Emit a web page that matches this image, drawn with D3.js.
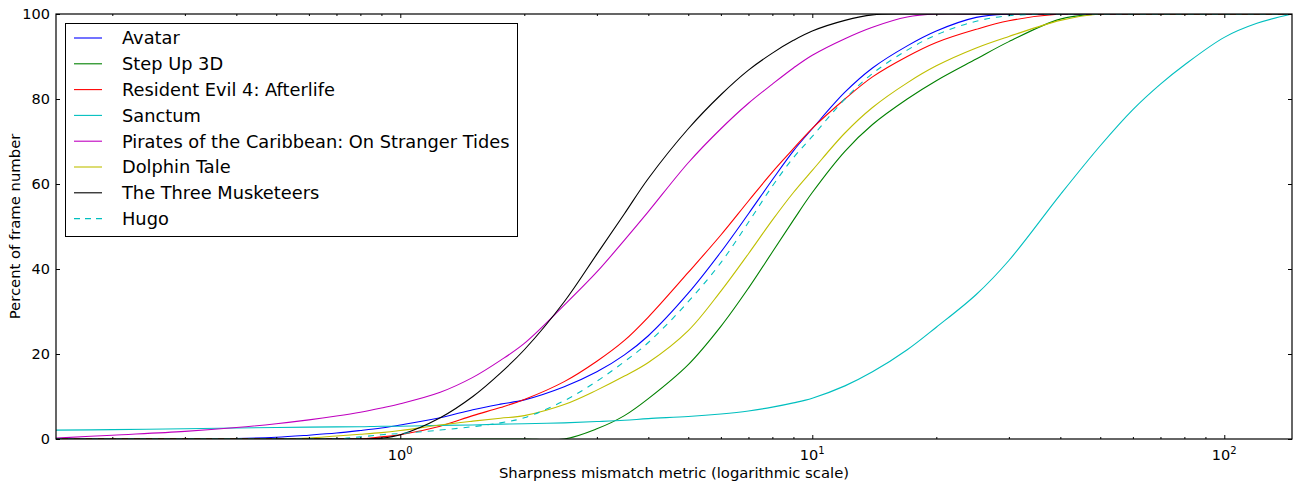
<!DOCTYPE html>
<html>
<head>
<meta charset="utf-8">
<script src="https://cdn.jsdelivr.net/npm/d3@7"></script>
<style>
  body { margin: 0; background: #fff; }
  text { font-family: "DejaVu Sans", sans-serif; fill: #000; }
</style>
</head>
<body>
<script>
// sharpness metric sample points (shared x grid)
var metric = [0.146, 0.2, 0.3, 0.4, 0.5, 0.6, 0.7, 0.8, 0.9, 1, 1.25, 1.5, 1.75, 2, 2.5, 3, 3.5, 4, 5, 6, 7, 8, 9, 10,
              12, 14, 17, 20, 25, 30, 40, 50, 60, 70, 80, 100, 120, 146];

// cumulative percent of frames, one array per film
var avatar       = [0, 0, 0, 0.1, 0.4, 0.9, 1.4, 2.0, 2.6, 3.3, 5.0, 6.9, 8.2, 9.2, 12.3, 15.8, 19.8, 24.3, 34.3, 44, 53, 61, 67.8, 73,
                    81.6, 87.3, 92.5, 96, 99.2, 100, 100, 100, 100, 100, 100, 100, 100, 100];
var stepUp       = [0, 0, 0, 0, 0, 0, 0, 0, 0, 0, 0, 0, 0, 0, 0, 2.4, 5.5, 9.5, 17.5, 26.5, 35.5, 44, 51.5, 58,
                    67.7, 74, 80, 84.3, 89.4, 93.5, 98.8, 100, 100, 100, 100, 100, 100, 100];
var residentEvil = [0, 0, 0, 0, 0, 0, 0, 0, 0.5, 1.0, 3.0, 5.5, 7.4, 9.3, 13.5, 18.3, 23.2, 28.7, 39.2, 48, 56, 62.8, 68.3, 73.1,
                    80, 85.2, 90, 93.3, 96.4, 98.4, 100, 100, 100, 100, 100, 100, 100, 100];
var sanctum      = [2.1, 2.2, 2.4, 2.6, 2.7, 2.8, 2.85, 2.9, 3.0, 3.0, 3.2, 3.3, 3.5, 3.6, 3.8, 4.1, 4.4, 4.8, 5.3, 5.9, 6.6, 7.5, 8.5, 9.6,
                    12.5, 15.8, 21, 26.3, 34, 42, 57.5, 69, 77.5, 83.5, 88, 94.5, 97.8, 100];
var pirates      = [0.2, 0.9, 1.8, 2.7, 3.6, 4.5, 5.4, 6.3, 7.3, 8.3, 11, 14.5, 18.5, 22.5, 31.5, 39.3, 46.8, 53.5, 65, 73, 79, 83.5, 87.3, 90.3,
                    94.2, 96.9, 99.3, 100, 100, 100, 100, 100, 100, 100, 100, 100, 100, 100];
var dolphinTale  = [0, 0, 0, 0, 0, 0.2, 0.7, 1.1, 1.5, 2.0, 3.3, 4.2, 4.9, 5.5, 8.1, 11.5, 14.8, 18, 25.5, 34.8, 43.6, 51.5, 58, 63.2,
                    72, 78, 83.8, 87.8, 92, 94.7, 98.5, 100, 100, 100, 100, 100, 100, 100];
var musketeers   = [0, 0, 0, 0, 0, 0, 0, 0, 0.2, 1.0, 5, 10, 15.5, 21, 32.3, 43.5, 53, 61.3, 73, 81, 86.8, 90.8, 93.8, 96,
                    98.5, 99.8, 100, 100, 100, 100, 100, 100, 100, 100, 100, 100, 100, 100];
var hugo         = [0, 0, 0, 0, 0, 0, 0, 0.5, 1.0, 1.3, 2.1, 2.9, 3.8, 5.0, 9.0, 13.6, 18.2, 22.7, 32.3, 41.5, 51, 59.5, 66.2, 71.2,
                    80, 86, 91.5, 95.1, 98.3, 99.6, 100, 100, 100, 100, 100, 100, 100, 100];

var names  = ["Avatar", "Step Up 3D", "Resident Evil 4: Afterlife", "Sanctum",
              "Pirates of the Caribbean: On Stranger Tides", "Dolphin Tale", "The Three Musketeers", "Hugo"];
var colors = ["#0000ff", "#008000", "#ff0000", "#00bfbf", "#bf00bf", "#bfbf00", "#000000", "#00bfbf"];
var dashes = [null, null, null, null, null, null, null, "6,6"];
var yTicks = [0, 20, 40, 60, 80, 100];
var xMajor = [1, 10, 100];

var series = [avatar, stepUp, residentEvil, sanctum, pirates, dolphinTale, musketeers, hugo];

var W = 1298, H = 486,
    margin = {top: 14, right: 6, bottom: 47, left: 56},
    width = W - margin.left - margin.right,
    height = H - margin.top - margin.bottom;

var svg = d3.select("body").append("svg")
    .attr("width", W)
    .attr("height", H);

var g = svg.append("g")
    .attr("transform", "translate(" + margin.left + "," + margin.top + ")");

var x = d3.scaleLog().domain([0.146, 146]).range([0, width]);
var y = d3.scaleLinear().domain([0, 100]).range([height, 0]);

g.append("clipPath").attr("id", "clip")
  .append("rect").attr("width", width).attr("height", height);

var line = d3.line()
    .x(function(d) { return x(d[0]); })
    .y(function(d) { return y(d[1]); })
    .curve(d3.curveCatmullRom.alpha(0.5));

g.append("g").attr("clip-path", "url(#clip)")
  .selectAll("path")
    .data(series)
    .enter()
  .append("path")
    .attr("d", function(s) { return line(metric.map(function(m, i) { return [m, s[i]]; })); })
    .attr("fill", "none")
    .attr("stroke", function(d, i) { return colors[i]; })
    .attr("stroke-width", 1.1)
    .attr("stroke-dasharray", function(d, i) { return dashes[i]; });

// minor tick positions 2..9 per decade
var xMinor = [];
[0.1, 1, 10, 100].forEach(function(dec) {
  for (var k = 2; k <= 9; k++) {
    var v = dec * k;
    if (v > 0.146 && v < 146) xMinor.push(v);
  }
});

function styleAxis(sel) {
  sel.select(".domain").remove();
  sel.selectAll("line").attr("stroke", "#000").attr("stroke-width", 1);
}

g.append("g").attr("transform", "translate(0," + height + ")")
  .call(d3.axisBottom(x).tickValues(xMajor).tickSize(-4).tickFormat(""))
  .call(styleAxis);
g.append("g").attr("transform", "translate(0," + height + ")")
  .call(d3.axisBottom(x).tickValues(xMinor).tickSize(-2).tickFormat(""))
  .call(styleAxis);
g.append("g")
  .call(d3.axisTop(x).tickValues(xMajor).tickSize(-4).tickFormat(""))
  .call(styleAxis);
g.append("g")
  .call(d3.axisTop(x).tickValues(xMinor).tickSize(-2).tickFormat(""))
  .call(styleAxis);

g.append("g")
  .call(d3.axisLeft(y).tickValues(yTicks).tickSize(-4).tickPadding(6))
  .call(styleAxis)
  .selectAll("text")
    .style("font-family", "DejaVu Sans")
    .style("font-size", "14.5px");
g.append("g").attr("transform", "translate(" + width + ",0)")
  .call(d3.axisRight(y).tickValues(yTicks).tickSize(-4).tickFormat(""))
  .call(styleAxis);

// x tick labels as 10 with superscript exponent
var xl = g.append("g").selectAll("text")
    .data(xMajor)
    .enter()
  .append("text")
    .attr("x", function(d) { return x(d); })
    .attr("y", height + 21)
    .attr("text-anchor", "middle")
    .style("font-size", "14.5px");
xl.append("tspan").text("10");
xl.append("tspan")
    .attr("dy", -6)
    .style("font-size", "10px")
    .text(function(d) { return Math.round(Math.log10(d)); });

// frame
g.append("rect")
    .attr("width", width)
    .attr("height", height)
    .attr("fill", "none")
    .attr("stroke", "#000")
    .attr("stroke-width", 1.2);

// axis titles
svg.append("text")
    .attr("x", margin.left + width / 2)
    .attr("y", 478)
    .attr("text-anchor", "middle")
    .style("font-size", "14.8px")
    .text("Sharpness mismatch metric (logarithmic scale)");

svg.append("text")
    .attr("transform", "translate(20," + (margin.top + height / 2) + ") rotate(-90)")
    .attr("text-anchor", "middle")
    .style("font-size", "14.8px")
    .text("Percent of frame number");

// legend
var legend = svg.append("g");
legend.append("rect")
    .attr("x", 65.5).attr("y", 23.5)
    .attr("width", 452).attr("height", 213)
    .attr("fill", "#fff")
    .attr("stroke", "#000")
    .attr("stroke-width", 1);

var item = legend.selectAll(".item")
    .data(names)
    .enter()
  .append("g")
    .attr("class", "item")
    .attr("transform", function(d, i) { return "translate(0," + (38 + i * 25.8) + ")"; });

item.append("line")
    .attr("x1", 74).attr("x2", 102)
    .attr("stroke", function(d, i) { return colors[i]; })
    .attr("stroke-width", 1.1)
    .attr("stroke-dasharray", function(d, i) { return dashes[i] ? "6,5" : null; });

item.append("text")
    .attr("x", 122)
    .attr("dy", "0.36em")
    .style("font-size", "17.8px")
    .text(function(d) { return d; });
</script>
</body>
</html>
